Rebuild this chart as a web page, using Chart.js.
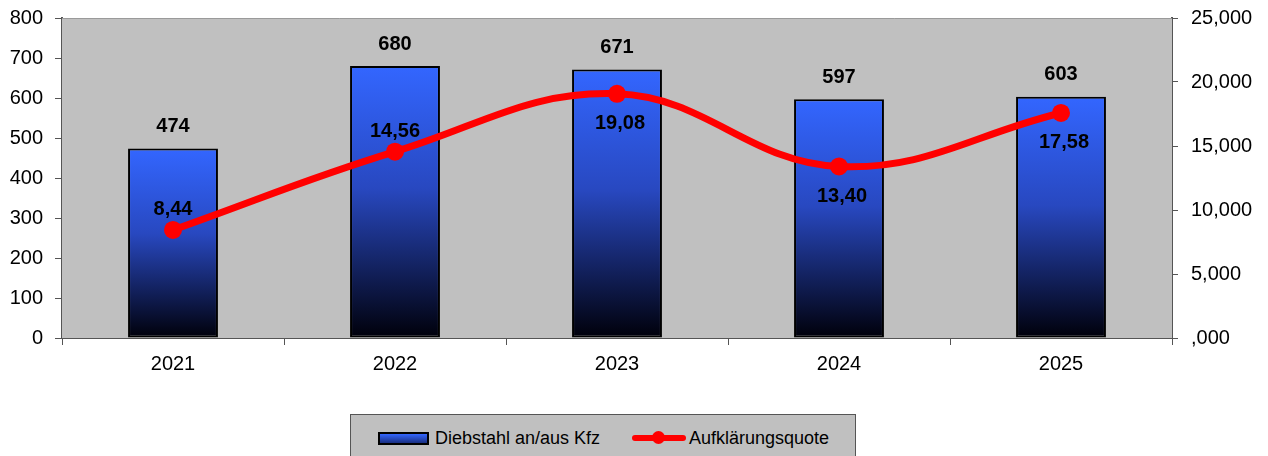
<!DOCTYPE html>
<html>
<head>
<meta charset="utf-8">
<script src="https://cdn.jsdelivr.net/npm/chart.js"></script>
<style>
    body { margin: 0; background: #fff; }
    #wrap { position: relative; width: 1268px; height: 456px; }
    #legend {
        position: absolute; left: 350px; top: 414px; width: 504px; height: 50px;
        background: #c0c0c0; border: 1px solid #555;
        font-family: "Liberation Sans", Arial, sans-serif; font-size: 18px; color: #000;
    }
    .item { position: absolute; top: 13px; line-height: 20px; white-space: nowrap; }
    .barkey {
        display: inline-block; width: 47px; height: 9px; vertical-align: -1px; margin-right: 6px;
        border: 2px solid #000; background: linear-gradient(#3366ff, #1a2f80);
    }
    .linekey { display: inline-block; position: relative; width: 54px; height: 20px; vertical-align: -4px; margin-right: 3px; }
    .linekey::before { content: ""; position: absolute; left: 0; right: 0; top: 7px; height: 6px; background: #ff0000; border-radius: 3px; }
    .linekey::after { content: ""; position: absolute; left: 20px; top: 3px; width: 13px; height: 13px; background: #ff0000; border-radius: 50%; }
</style>
</head>
<body>
<div id="wrap">
    <canvas id="chart" width="1268" height="456"></canvas>
    <div id="legend"></div>
</div>
<script>
// ================= DATA =================
const years = ["2021", "2022", "2023", "2024", "2025"];
const theftCounts = [474, 680, 671, 597, 603];
const clearanceRates = [8.44, 14.56, 19.08, 13.40, 17.58];
const rateLabelSide = ["above", "above", "below", "below", "below"];
const countTicks = [0, 100, 200, 300, 400, 500, 600, 700, 800];
const rateTicks = [",000", "5,000", "10,000", "15,000", "20,000", "25,000"];
const seriesNames = ["Diebstahl an/aus Kfz", "Aufklärungsquote"];

const FONT = "'Liberation Sans', Arial, sans-serif";

// plot background + value labels
const chartDecor = {
    id: "chartDecor",
    beforeDatasetsDraw(chart) {
        const a = chart.chartArea, c = chart.ctx;
        c.save();
        c.fillStyle = "#c0c0c0";
        c.fillRect(a.left, a.top, a.right - a.left, a.bottom - a.top);
        c.strokeStyle = "#9a9a9a";
        c.lineWidth = 1;
        c.beginPath();
        c.moveTo(a.left, a.top + 0.5);
        c.lineTo(a.right, a.top + 0.5);
        c.stroke();
        c.restore();
    },
    afterDatasetsDraw(chart) {
        const c = chart.ctx;
        c.save();
        c.fillStyle = "#000";
        c.font = "bold 20px " + FONT;
        c.textAlign = "center";

        chart.getDatasetMeta(0).data.forEach((bar, i) => {
            c.textBaseline = "bottom";
            c.fillText(String(theftCounts[i]), bar.x, bar.y - 12);
        });

        chart.getDatasetMeta(1).data.forEach((pt, i) => {
            const text = clearanceRates[i].toFixed(2).replace(".", ",");
            if (rateLabelSide[i] === "above") {
                c.textBaseline = "bottom";
                c.fillText(text, pt.x, pt.y - 10);
            } else {
                c.textBaseline = "top";
                c.fillText(text, pt.x + 3, pt.y + 20);
            }
        });
        c.restore();
    }
};

function barGradient(ctx) {
    const chart = ctx.chart;
    if (!chart.chartArea || ctx.dataIndex === undefined) return "#3366ff";
    const y = chart.scales.y;
    const top = y.getPixelForValue(theftCounts[ctx.dataIndex]);
    const bottom = y.getPixelForValue(0);
    const g = chart.ctx.createLinearGradient(0, top, 0, bottom);
    g.addColorStop(0, "#3366ff");
    g.addColorStop(0.45, "#2848c0");
    g.addColorStop(1, "#00000a");
    return g;
}

const tickFont = { family: FONT, size: 20 };

// fixed axis boxes so the plot sits where the reference has it
function fixBox(size, key) {
    return s => {
        s[key] = size;
        s.paddingTop = 0;
        s.paddingBottom = 0;
        s.paddingLeft = 0;
        s.paddingRight = 0;
    };
}

const theftChart = new Chart(document.getElementById("chart"), {
    type: "bar",
    data: {
        labels: years,
        datasets: [
            {
                label: seriesNames[0],
                data: theftCounts,
                yAxisID: "y",
                order: 2,
                backgroundColor: barGradient,
                borderColor: "#000",
                borderWidth: 2,
                borderSkipped: false,
                categoryPercentage: 1,
                barPercentage: 0.405
            },
            {
                type: "line",
                label: seriesNames[1],
                data: clearanceRates,
                yAxisID: "y1",
                order: 1,
                borderColor: "#ff0000",
                backgroundColor: "#ff0000",
                borderWidth: 7,
                tension: 0.4,
                fill: false,
                pointRadius: 9,
                pointHoverRadius: 9,
                pointBorderWidth: 0,
                pointBackgroundColor: "#ff0000"
            }
        ]
    },
    options: {
        responsive: false,
        animation: false,
        layout: { padding: { top: 18, left: 0, right: 0, bottom: 0 } },
        plugins: {
            legend: { display: false },
            tooltip: { enabled: false }
        },
        scales: {
            x: {
                afterFit: fixBox(118, "height"),
                grid: { offset: true, drawOnChartArea: false, color: "#555", tickLength: 7, lineWidth: 1 },
                border: { color: "#555", width: 2 },
                ticks: { color: "#000", font: tickFont, padding: 7 }
            },
            y: {
                position: "left",
                min: 0,
                max: 800,
                afterFit: fixBox(62, "width"),
                afterBuildTicks: s => { s.ticks = countTicks.map(v => ({ value: v })); },
                grid: { drawOnChartArea: false, color: "#555", tickLength: 7 },
                border: { color: "#555", width: 2 },
                ticks: { color: "#000", font: tickFont, padding: 12 }
            },
            y1: {
                position: "right",
                min: 0,
                max: 25,
                afterFit: fixBox(96, "width"),
                afterBuildTicks: s => { s.ticks = rateTicks.map((t, i) => ({ value: i * 5 })); },
                grid: { drawOnChartArea: false, color: "#555", tickLength: 6 },
                border: { color: "#555", width: 2 },
                ticks: {
                    color: "#000",
                    font: tickFont,
                    padding: 13,
                    callback: (v, i) => rateTicks[i]
                }
            }
        }
    },
    plugins: [chartDecor]
});

// ================= LEGEND =================
document.getElementById("legend").innerHTML =
    '<span class="item" style="left:27px"><span class="barkey"></span>' + seriesNames[0] + '</span>' +
    '<span class="item" style="left:281px"><span class="linekey"></span>' + seriesNames[1] + '</span>';
</script>
</body>
</html>
